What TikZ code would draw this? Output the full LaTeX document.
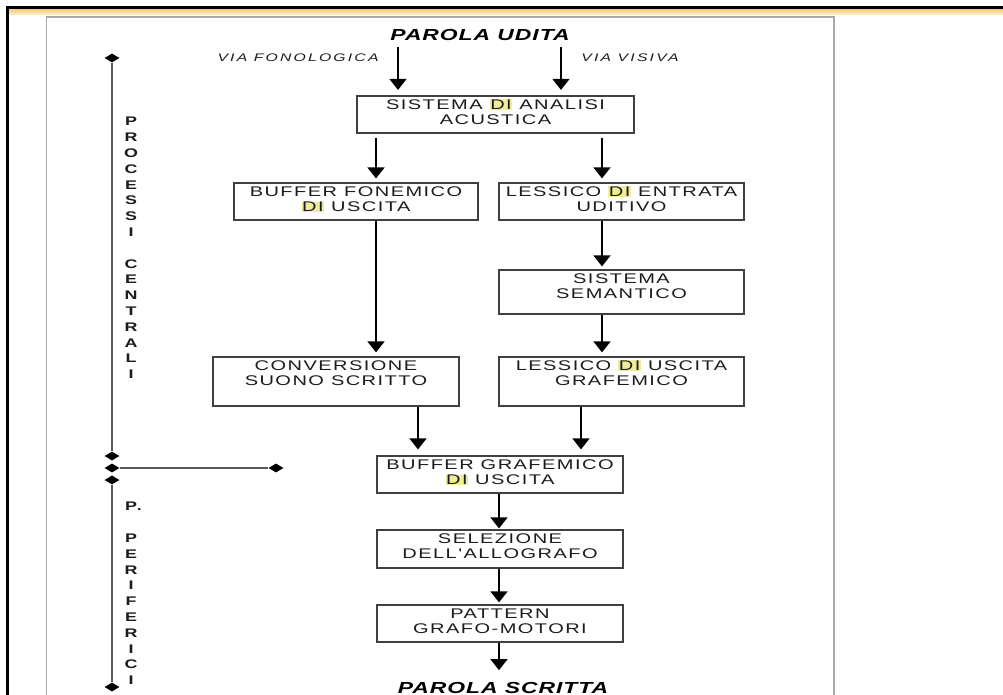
\documentclass[tikz,border=0pt]{standalone}
\usepackage{fontspec}
\usetikzlibrary{arrows.meta,shapes.geometric}

% wide, tracked sans faces for the flow chart
\newfontfamily\boxfont[FakeStretch=1.43,LetterSpace=10.4]{Liberation Sans}
\newfontfamily\headfont[FakeStretch=1.43,LetterSpace=6]{Liberation Sans}
\newfontfamily\viafont[FakeStretch=1.43,LetterSpace=20]{Liberation Sans}
\newfontfamily\sidefont[FakeStretch=1.43]{Liberation Sans}

\definecolor{hlyellow}{HTML}{F0EC9A}
\definecolor{boxline}{HTML}{404040}
\definecolor{txt}{HTML}{1C1C1C}
\definecolor{framegray}{HTML}{A9A9A9}
\definecolor{bandtop}{HTML}{F2CF86}
\definecolor{bandbot}{HTML}{FCF1D6}

% highlighted "DI"
\newcommand{\hlDI}{{\setlength{\fboxsep}{0.6pt}\colorbox{hlyellow}{DI}}}
% box body: height, width, top-aligned centred lines
\newcommand{\stagebox}[3]{\parbox[c][#1][t]{#2}{\centering\rule{0pt}{13.3pt}#3}}

\begin{document}
\begin{tikzpicture}[x=1pt,y=-1pt,
  stage/.style={draw=boxline, line width=1.2pt, inner sep=0pt, text=txt,
    font=\boxfont\fontsize{14}{15.5}\selectfont},
  flow/.style={-{Triangle[width=17pt,length=11pt]}, line width=1.3pt, draw=black, shorten >=4pt},
  head/.style={inner sep=0pt, text=black, font=\headfont\bfseries\itshape\fontsize{16}{18}\selectfont},
  via/.style={inner sep=0pt, text=txt, font=\viafont\itshape\fontsize{11}{12}\selectfont},
  side/.style={inner sep=0pt, align=center, text=txt, font=\sidefont\bfseries\fontsize{12.5}{15.8}\selectfont},
  tick/.style={diamond, fill=black, inner sep=0pt, minimum width=15pt, minimum height=9pt},
  scaleline/.style={draw=black!65, line width=1.6pt}
]
\useasboundingbox (0,0) rectangle (1003,695);
\fill[white] (0,0) rectangle (1003,695);

% window frame
\shade[top color=bandtop, bottom color=bandbot] (9,9.5) rectangle (1003,15);
\draw[black, line width=3pt] (7.5,695) -- (7.5,8) -- (1003,8);
\draw[framegray, line width=1.8pt] (46.5,695) -- (46.5,17) -- (834,17) -- (834,695);

% side scale
\node[tick] (t1) at (112,58) {};
\node[tick] (t2) at (112,456) {};
\node[tick] (t3) at (112,468) {};
\node[tick] (t4) at (112,480) {};
\node[tick] (t5) at (112,687) {};
\node[tick] (t6) at (276,468) {};
\draw[scaleline] (t1) -- (t2);
\draw[scaleline] (t4) -- (t5);
\draw[scaleline] (t3) -- (t6);

\node[side] (central) at (131,248) {P\\R\\O\\C\\E\\S\\S\\I\\\mbox{}\\C\\E\\N\\T\\R\\A\\L\\I};
\node[side] (periph) at (131,593.4) {P\rlap{.}\\\mbox{}\\P\\E\\R\\I\\F\\E\\R\\I\\C\\I};

% headings
\node[head] (src) at (480,35) {PAROLA UDITA};
\node[via] (vf) at (298,58) {VIA FONOLOGICA};
\node[via] (vv) at (630,58) {VIA VISIVA};
\node[head] (dst) at (503,688) {PAROLA SCRITTA};

% stages
\node[stage] (acu)  at (495.5,114.5) {\stagebox{37pt}{277pt}{SISTEMA \hlDI{} ANALISI\\ACUSTICA}};
\node[stage] (buf)  at (356,201.5)   {\stagebox{37pt}{244pt}{BUFFER FONEMICO\\\hlDI{} USCITA}};
\node[stage] (lin)  at (621.5,201.5) {\stagebox{37pt}{245pt}{LESSICO \hlDI{} ENTRATA\\UDITIVO}};
\node[stage] (sem)  at (621.5,292)   {\stagebox{44pt}{245pt}{SISTEMA\\SEMANTICO}};
\node[stage] (conv) at (336,381.5)   {\stagebox{49pt}{246pt}{CONVERSIONE\\SUONO SCRITTO}};
\node[stage] (lout) at (621.5,381.5) {\stagebox{49pt}{245pt}{LESSICO \hlDI{} USCITA\\GRAFEMICO}};
\node[stage] (gbuf) at (500,474.5)   {\stagebox{37pt}{246pt}{BUFFER GRAFEMICO\\\hlDI{} USCITA}};
\node[stage] (allo) at (500,549)     {\stagebox{38pt}{246pt}{SELEZIONE\\DELL'ALLOGRAFO}};
\node[stage] (patt) at (500,623.5)   {\stagebox{37pt}{246pt}{PATTERN\\GRAFO-MOTORI}};

% arrow columns
\coordinate (xa) at (398,0);
\coordinate (xb) at (561,0);
\coordinate (xc) at (376,0);
\coordinate (xd) at (602,0);
\coordinate (xe) at (418,0);
\coordinate (xf) at (581,0);
\coordinate (xg) at (499,0);

% connections
\draw[flow, shorten <=6pt, shorten >=5.5pt] (src.south -| xa) -- (acu.north -| xa);
\draw[flow, shorten <=6pt, shorten >=5.5pt] (src.south -| xb) -- (acu.north -| xb);
\draw[flow, shorten <=4pt] (acu.south -| xc) -- (buf.north -| xc);
\draw[flow, shorten <=4pt] (acu.south -| xd) -- (lin.north -| xd);
\draw[flow, shorten >=3pt] (lin.south -| xd) -- (sem.north -| xd);
\draw[flow] (buf.south -| xc) -- (conv.north -| xc);
\draw[flow] (sem.south -| xd) -- (lout.north -| xd);
\draw[flow, shorten >=6pt] (conv.south -| xe) -- (gbuf.north -| xe);
\draw[flow, shorten >=6pt] (lout.south -| xf) -- (gbuf.north -| xf);
\draw[flow, shorten >=1pt] (gbuf.south -| xg) -- (allo.north -| xg);
\draw[flow, shorten >=2pt] (allo.south -| xg) -- (patt.north -| xg);
\draw[flow, shorten >=12pt] (patt.south -| xg) -- (dst.north -| xg);
\end{tikzpicture}
\end{document}
